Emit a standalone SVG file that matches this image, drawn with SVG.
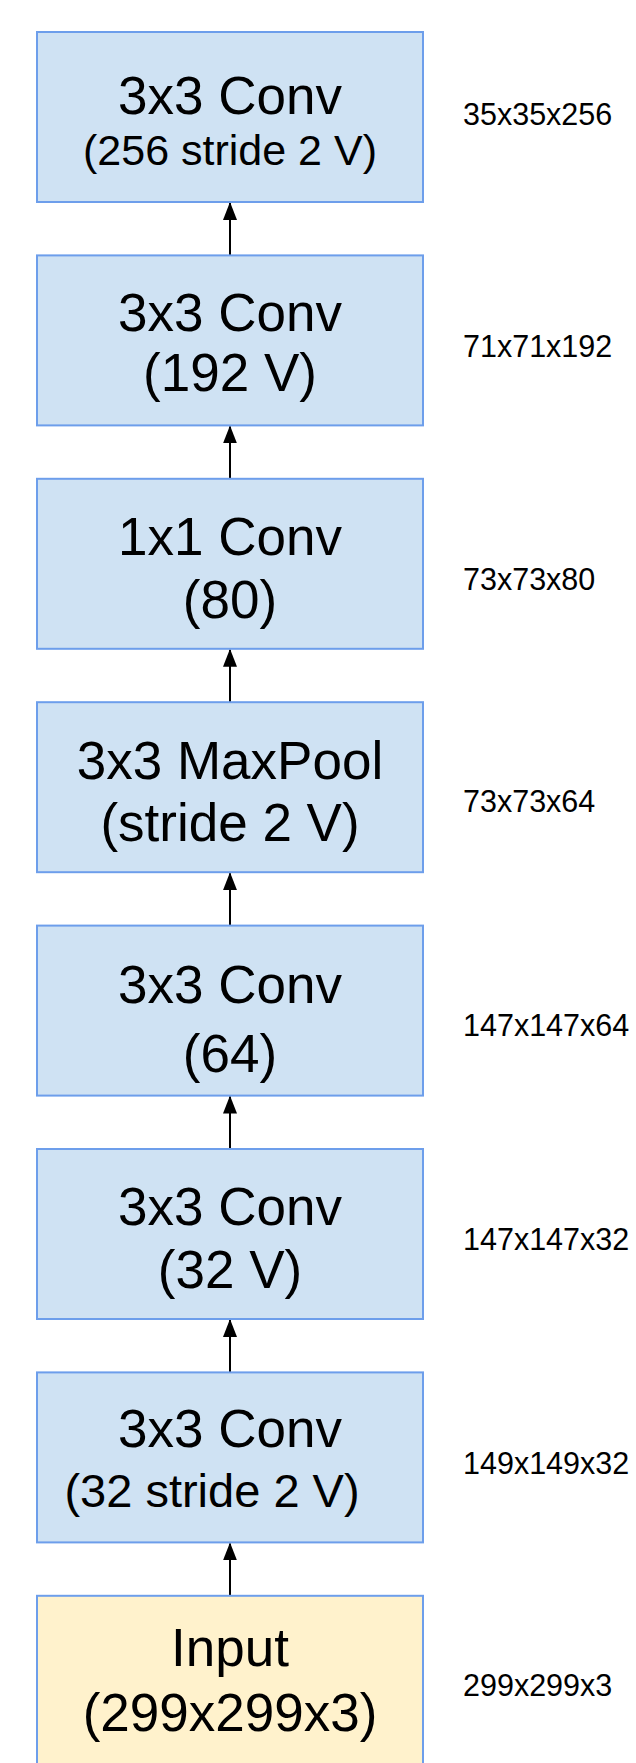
<svg xmlns="http://www.w3.org/2000/svg" width="636" height="1763" viewBox="0 0 636 1763">
<defs>
<style>
.box{fill:#cfe2f3;stroke:#6d9eeb;stroke-width:2}
.inp{fill:#fff2cc;stroke:#6d9eeb;stroke-width:2}
.t{font-family:"Liberation Sans",Arial,sans-serif;font-size:53px;fill:#000;text-anchor:middle}
.s43{font-size:43px}
.s47{font-size:47px}
.lab{font-family:"Liberation Sans",Arial,sans-serif;font-size:30.5px;fill:#000}
.c{stroke:#000;stroke-width:2;fill:none}
</style>
<marker id="ah" viewBox="0 0 18 14" refX="17" refY="7" markerWidth="18" markerHeight="14" markerUnits="userSpaceOnUse" orient="auto">
<path d="M0 0 L18 7 L0 14 Z" fill="#000"/>
</marker>
</defs>
<rect width="636" height="1763" fill="#fff"/>
<g id="connectors">
<line class="c" x1="230" y1="255.4" x2="230" y2="203" marker-end="url(#ah)"/>
<line class="c" x1="230" y1="478.8" x2="230" y2="426.4" marker-end="url(#ah)"/>
<line class="c" x1="230" y1="702.2" x2="230" y2="649.8" marker-end="url(#ah)"/>
<line class="c" x1="230" y1="925.6" x2="230" y2="873.2" marker-end="url(#ah)"/>
<line class="c" x1="230" y1="1149" x2="230" y2="1096.6" marker-end="url(#ah)"/>
<line class="c" x1="230" y1="1372.4" x2="230" y2="1320" marker-end="url(#ah)"/>
<line class="c" x1="230" y1="1595.8" x2="230" y2="1543.4" marker-end="url(#ah)"/>
</g>
<g id="conv256">
<rect class="box" x="37" y="32" width="386" height="170"/>
<text class="t" x="230" y="114">3x3 Conv</text>
<text class="t s43" x="230" y="165">(256 stride 2 V)</text>
</g>
<g id="conv192">
<rect class="box" x="37" y="255.4" width="386" height="170"/>
<text class="t" x="230" y="331">3x3 Conv</text>
<text class="t" x="230" y="391">(192 V)</text>
</g>
<g id="conv80">
<rect class="box" x="37" y="478.8" width="386" height="170"/>
<text class="t" x="230" y="555">1x1 Conv</text>
<text class="t" x="230" y="618">(80)</text>
</g>
<g id="maxpool">
<rect class="box" x="37" y="702.2" width="386" height="170"/>
<text class="t" x="230" y="779">3x3 MaxPool</text>
<text class="t" x="230" y="841">(stride 2 V)</text>
</g>
<g id="conv64">
<rect class="box" x="37" y="925.6" width="386" height="170"/>
<text class="t" x="230" y="1003">3x3 Conv</text>
<text class="t" x="230" y="1072">(64)</text>
</g>
<g id="conv32v">
<rect class="box" x="37" y="1149" width="386" height="170"/>
<text class="t" x="230" y="1225">3x3 Conv</text>
<text class="t" x="230" y="1288">(32 V)</text>
</g>
<g id="conv32s2">
<rect class="box" x="37" y="1372.4" width="386" height="170"/>
<text class="t" x="230" y="1447">3x3 Conv</text>
<text class="t s47" x="212" y="1507">(32 stride 2 V)</text>
</g>
<g id="input">
<rect class="inp" x="37" y="1595.8" width="386" height="172"/>
<text class="t" x="230" y="1666">Input</text>
<text class="t" x="230" y="1731">(299x299x3)</text>
</g>
<g id="labels">
<text class="lab" x="463" y="125">35x35x256</text>
<text class="lab" x="463" y="357">71x71x192</text>
<text class="lab" x="463" y="590">73x73x80</text>
<text class="lab" x="463" y="812">73x73x64</text>
<text class="lab" x="463" y="1036">147x147x64</text>
<text class="lab" x="463" y="1250">147x147x32</text>
<text class="lab" x="463" y="1474">149x149x32</text>
<text class="lab" x="463" y="1696">299x299x3</text>
</g>
</svg>
